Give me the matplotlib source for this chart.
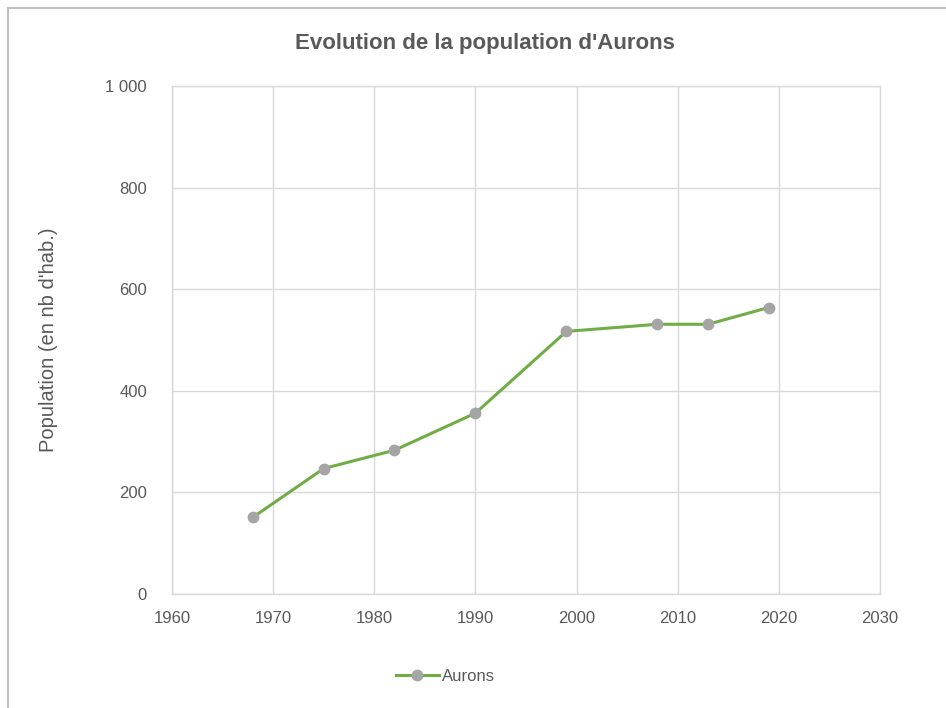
import matplotlib.pyplot as plt
from matplotlib.lines import Line2D
from matplotlib.ticker import FuncFormatter

# Population of Aurons by census year
years = [1968, 1975, 1982, 1990, 1999, 2008, 2013, 2019]
population = [151, 247, 283, 356, 517, 531, 531, 564]
series_name = "Aurons"

x_ticks = [1960, 1970, 1980, 1990, 2000, 2010, 2020, 2030]
y_ticks = [0, 200, 400, 600, 800, 1000]

TEXT = "#595959"
GRID = "#D9D9D9"
GREEN = "#70AD47"
MARKER = "#A5A5A5"

plt.rcParams["font.family"] = ["Liberation Sans", "DejaVu Sans"]


def main():
    fig = plt.figure(figsize=(9.46, 7.08), dpi=100)
    ax = fig.add_axes([0.1818, 0.161, 0.7484, 0.7175])

    ax.plot(years, population, color=GREEN, linewidth=2.2, marker="o",
            markersize=7.5, markerfacecolor=MARKER, markeredgecolor=MARKER,
            zorder=3)

    ax.set_xlim(1960, 2030)
    ax.set_ylim(0, 1000)
    ax.set_xticks(x_ticks)
    ax.set_yticks(y_ticks)
    ax.yaxis.set_major_formatter(
        FuncFormatter(lambda v, _: f"{int(v):,}".replace(",", " ")))

    ax.grid(True, color=GRID, linewidth=1.0)
    ax.set_axisbelow(True)
    for s in ax.spines.values():
        s.set_color(GRID)
        s.set_linewidth(1.0)
    ax.tick_params(length=0, labelsize=12, colors=TEXT)
    ax.tick_params(axis="y", pad=18)
    ax.tick_params(axis="x", pad=12)

    ax.set_ylabel("Population (en nb d'hab.)", fontsize=14.5, color=TEXT,
                  labelpad=34)
    fig.text(0.513, 0.938, "Evolution de la population d'Aurons",
             ha="center", va="center", fontsize=16, fontweight="bold",
             color=TEXT)

    handle = Line2D([], [], color=GREEN, linewidth=2.2, marker="o",
                    markersize=7.5, markerfacecolor=MARKER,
                    markeredgecolor=MARKER)
    fig.legend([handle], [series_name], loc="center",
               bbox_to_anchor=(0.471, 0.045), frameon=False, fontsize=12,
               labelcolor=TEXT, handlelength=2.6, handletextpad=0.2)

    # chart area border (top and left edges visible in the crop)
    fig.add_artist(Line2D([0.0085, 1.0], [0.988, 0.988], color="#BFBFBF",
                          linewidth=1.5, transform=fig.transFigure))
    fig.add_artist(Line2D([0.0085, 0.0085], [0.0, 0.988], color="#BFBFBF",
                          linewidth=1.5, transform=fig.transFigure))

    fig.savefig("out.png", dpi=100, facecolor="white")
    plt.close(fig)


if __name__ == "__main__":
    main()
